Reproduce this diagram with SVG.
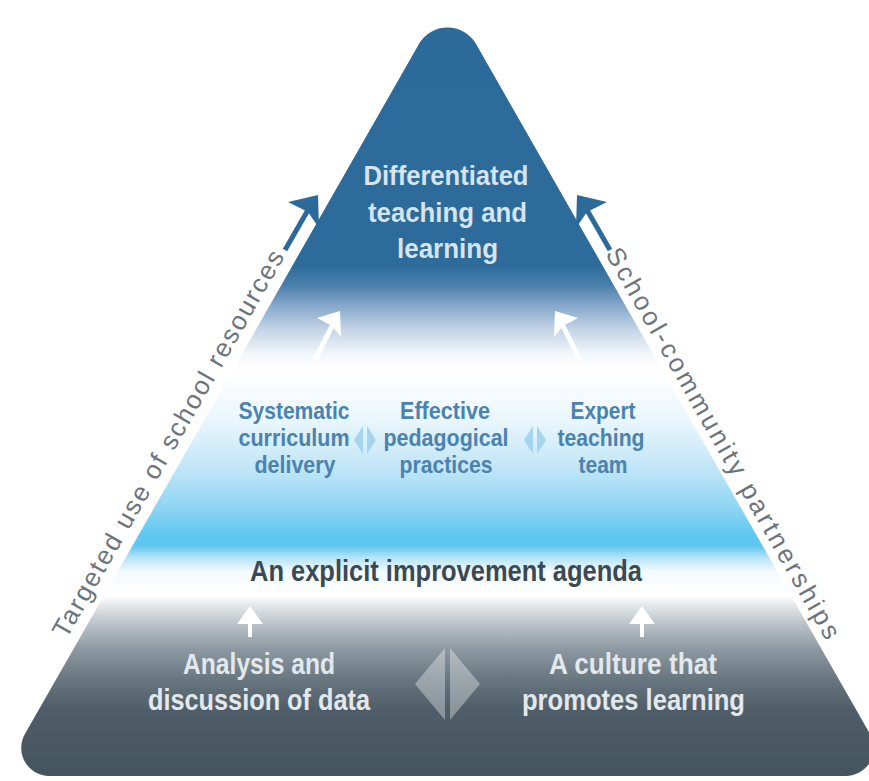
<svg xmlns="http://www.w3.org/2000/svg" width="869" height="781" viewBox="0 0 869 781">
<defs>
<linearGradient id="pyr" gradientUnits="userSpaceOnUse" x1="0" y1="0" x2="0" y2="781">
<stop offset="0" stop-color="#2b6a99"/>
<stop offset="0.339" stop-color="#2c6b9a"/>
<stop offset="0.365" stop-color="#4a7fac"/>
<stop offset="0.391" stop-color="#85a7c9"/>
<stop offset="0.423" stop-color="#c5d6e7"/>
<stop offset="0.455" stop-color="#f5f8fb"/>
<stop offset="0.476" stop-color="#ffffff"/>
<stop offset="0.538" stop-color="#eaf6fc"/>
<stop offset="0.602" stop-color="#bfe5f7"/>
<stop offset="0.647" stop-color="#91d6f3"/>
<stop offset="0.685" stop-color="#5fc8f0"/>
<stop offset="0.698" stop-color="#5ac6ef"/>
<stop offset="0.714" stop-color="#b5e3f6"/>
<stop offset="0.732" stop-color="#f4fafd"/>
<stop offset="0.763" stop-color="#ffffff"/>
<stop offset="0.776" stop-color="#e2e6e9"/>
<stop offset="0.800" stop-color="#b9c1c7"/>
<stop offset="0.832" stop-color="#8c98a0"/>
<stop offset="0.871" stop-color="#67757f"/>
<stop offset="0.909" stop-color="#4e5d67"/>
<stop offset="1" stop-color="#44545e"/>
</linearGradient>
</defs>
<style>
.t{font-family:"Liberation Sans Narrow","Liberation Sans","DejaVu Sans Condensed",sans-serif;font-weight:bold;text-anchor:middle}
.top{font-size:28px;fill:#d6e4f0}
.mid{font-size:24px;fill:#4a82b0}
.agenda{font-size:29px;fill:#3b4954}
.bot{font-size:29px;fill:#e2e8ec}
.side{font-family:"Liberation Sans","DejaVu Sans",sans-serif;font-size:26px;fill:#6d757c;text-anchor:middle}
.blue{fill:#2b6a99}
.bshaft{stroke:#2b6a99;stroke-width:5;fill:none}
.white{fill:#ffffff}
.wshaft{stroke:#ffffff;stroke-width:5;fill:none}
.lb{fill:#a5d5ee}
.gd{fill:#ffffff;fill-opacity:0.35}
</style>
<rect width="869" height="781" fill="#ffffff"/>
<g id="pyramid">
<path d="M418.8 44.3 A33 33 0 0 1 476.2 44.3 L870.1 734.1 A28 28 0 0 1 845.8 776 L49.2 776 A28 28 0 0 1 24.9 734.1 Z" fill="url(#pyr)"/>
</g>
<g id="connectors">
<path class="bshaft" d="M285 250 L308 210"/>
<path class="blue" d="M318 195 L288 202 L308 212 L319 228 Z"/>
<path class="bshaft" d="M610 250 L587 210"/>
<path class="blue" d="M577 195 L607 202 L587 212 L576 228 Z"/>
<path class="wshaft" d="M315 360 L332 326"/>
<path class="white" d="M340 311 L317 318 L332 326 L341 337 Z"/>
<path class="wshaft" d="M580 360 L563 326"/>
<path class="white" d="M555 311 L578 318 L563 326 L554 337 Z"/>
<path class="lb" d="M363 426 L354 440 L363 454 Z M367 426 L376 440 L367 454 Z"/>
<path class="lb" d="M533 426 L524 440 L533 454 Z M537 426 L546 440 L537 454 Z"/>
<path class="white" d="M250 606 L237 624 L263 624 Z"/>
<rect class="white" x="248" y="624" width="4" height="13"/>
<path class="white" d="M642 606 L629 624 L655 624 Z"/>
<rect class="white" x="640" y="624" width="4" height="13"/>
<path class="gd" d="M445 648 L415 684 L445 720 Z M450 648 L480 684 L450 720 Z"/>
</g>
<g id="node-differentiated">
<text class="t top" x="446" y="185" textLength="165" lengthAdjust="spacingAndGlyphs">Differentiated</text>
<text class="t top" x="447.5" y="222" textLength="159" lengthAdjust="spacingAndGlyphs">teaching and</text>
<text class="t top" x="447.5" y="258" textLength="101" lengthAdjust="spacingAndGlyphs">learning</text>
</g>
<g id="node-curriculum">
<text class="t mid" x="294" y="419" textLength="111" lengthAdjust="spacingAndGlyphs">Systematic</text>
<text class="t mid" x="294" y="446" textLength="111" lengthAdjust="spacingAndGlyphs">curriculum</text>
<text class="t mid" x="295" y="473" textLength="81" lengthAdjust="spacingAndGlyphs">delivery</text>
</g>
<g id="node-pedagogical">
<text class="t mid" x="445" y="419" textLength="90" lengthAdjust="spacingAndGlyphs">Effective</text>
<text class="t mid" x="446" y="446" textLength="125" lengthAdjust="spacingAndGlyphs">pedagogical</text>
<text class="t mid" x="446" y="473" textLength="93" lengthAdjust="spacingAndGlyphs">practices</text>
</g>
<g id="node-expert">
<text class="t mid" x="603" y="419" textLength="65" lengthAdjust="spacingAndGlyphs">Expert</text>
<text class="t mid" x="601" y="446" textLength="87" lengthAdjust="spacingAndGlyphs">teaching</text>
<text class="t mid" x="603" y="473" textLength="49" lengthAdjust="spacingAndGlyphs">team</text>
</g>
<g id="node-agenda">
<text class="t agenda" x="446" y="581" textLength="392" lengthAdjust="spacingAndGlyphs">An explicit improvement agenda</text>
</g>
<g id="node-analysis">
<text class="t bot" x="259" y="674" textLength="152" lengthAdjust="spacingAndGlyphs">Analysis and</text>
<text class="t bot" x="259" y="710" textLength="222" lengthAdjust="spacingAndGlyphs">discussion of data</text>
</g>
<g id="node-culture">
<text class="t bot" x="633" y="674" textLength="168" lengthAdjust="spacingAndGlyphs">A culture that</text>
<text class="t bot" x="633.5" y="710" textLength="223" lengthAdjust="spacingAndGlyphs">promotes learning</text>
</g>
<g id="label-left">
<text class="side" transform="translate(175.7 448) rotate(-60.3)" textLength="441">Targeted use of school resources</text>
</g>
<g id="label-right">
<text class="side" transform="translate(715.6 447.5) rotate(60.3)" textLength="446">School-community partnerships</text>
</g>
</svg>
